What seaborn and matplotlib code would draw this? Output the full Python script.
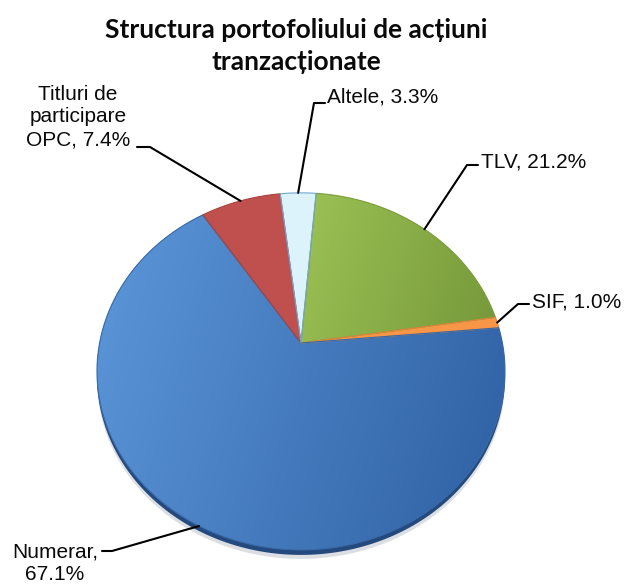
import numpy as np
import matplotlib
matplotlib.use('Agg')
import matplotlib.pyplot as plt
from matplotlib.patches import Polygon
from matplotlib.transforms import Affine2D
from matplotlib.colors import LinearSegmentedColormap
import seaborn as sns

# data
labels = ['TLV', 'SIF', 'Numerar', 'Titluri de\nparticipare\nOPC', 'Altele']
seps = [', ', ', ', ',\n', ', ', ', ']
shares = [21.2, 1.0, 67.1, 7.4, 3.3]
colors = ['#8DB446', '#F79646', '#4477BF', '#C0504D', '#DCF3FB']
edges = ['#7C9E3C', '#E0843A', '#3A69A8', '#A8433F', '#6FA8D0']

sns.set_theme(style='white')
plt.rcParams['font.family'] = ['Liberation Sans', 'DejaVu Sans']

W, H = 634, 586
fig = plt.figure(figsize=(W / 100, H / 100), dpi=100)
ax = fig.add_axes([0, 0, 1, 1])

wedges, _ = ax.pie(shares, startangle=85, counterclock=False, radius=1, center=(0, 0))

# tilted disc (3D look): perspective projection into pixel space
cx, cy, f, t, c = 301, 343, 201.4, 0.159, 0.864


def project(x, y):
    w = 1 + t * y
    return cx + f * x / w, cy - f * c * y / w


# side / shadow of the disc
phi = np.linspace(0, 2 * np.pi, 400)
ox, oy = project(np.cos(phi), np.sin(phi))
ax.add_patch(Polygon(np.c_[ox, oy + 9], closed=True, fc='#9aa3ad', ec='none', alpha=0.35, zorder=0))
ax.add_patch(Polygon(np.c_[ox, oy + 5], closed=True, fc='#24497c', ec='none', zorder=1))

grads = {
    0: ['#9CC255', '#76983A'],
    2: ['#5C97DA', '#2E60A2'],
}
yy, xx = np.mgrid[0:1:100j, 0:1:100j]
gimg = 0.8 * xx + 0.2 * yy

up = Affine2D().scale(2000)
mids = []
for i, (w_, col, ec) in enumerate(zip(wedges, colors, edges)):
    pts = w_.get_path().to_polygons(up)[0] / 2000.0
    X, Y = project(pts[:, 0], pts[:, 1])
    m = np.deg2rad((w_.theta1 + w_.theta2) / 2)
    mids.append(project(np.cos(m), np.sin(m)))
    w_.remove()
    poly = Polygon(np.c_[X, Y], closed=True, fc=col, ec='none', zorder=2)
    ax.add_patch(poly)
    if i in grads:
        cm = LinearSegmentedColormap.from_list('g%d' % i, grads[i])
        im = ax.imshow(gimg, extent=(X.min(), X.max(), Y.max(), Y.min()), cmap=cm,
                       aspect='auto', zorder=3, interpolation='bilinear')
        im.set_clip_path(poly)
    ax.add_patch(Polygon(np.c_[X, Y], closed=True, fill=False, ec=ec, lw=0.8, zorder=4))

# labels with leader lines: (text x, text y, ha, line start, knee)
lab_layout = [
    (481, 162, 'left', (478, 165), (467, 165)),
    (532, 302, 'left', (529, 304), (518, 304)),
    (55, 563, 'center', (102, 551), (112, 551)),
    (78, 117, 'center', (137, 147), (150, 147)),
    (327, 97, 'left', (325, 103), (314, 103)),
]
for lab, sep, v, (tx, ty, ha, p0, p1), (mx, my) in zip(labels, seps, shares, lab_layout, mids):
    ax.text(tx, ty, f'{lab}{sep}{v:.1f}%', ha=ha, va='center', fontsize=15,
            color='#0a0a0a', linespacing=1.2 if '\n' in sep else 1.26, zorder=6)
    ax.plot([p0[0], p1[0], mx], [p0[1], p1[1], my], color='black', lw=1.5, zorder=5)

ax.text(296, 46, 'Structura portofoliului de acțiuni\ntranzacționate', ha='center', va='center',
        fontsize=19, fontweight='bold', family=['Lato', 'DejaVu Sans'], linespacing=1.42, color='#0a0a0a')

ax.set_aspect('auto')
ax.set_xlim(0, W)
ax.set_ylim(H, 0)
ax.axis('off')
fig.savefig('out.png', dpi=100, facecolor='white')
